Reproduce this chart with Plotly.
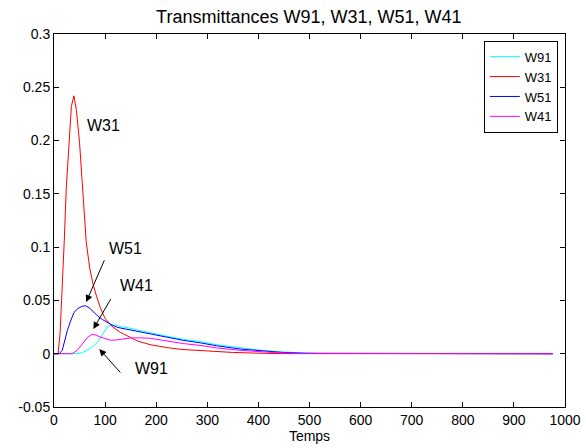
import plotly.graph_objects as go

# Time samples (Temps) and transmittance values for each curve
t_w91 = [0, 39, 55, 65, 75, 85, 92, 98, 104, 110, 121, 130, 143, 165, 188, 220, 253, 286, 318, 364, 400, 442, 480, 520, 976]
v_w91 = [0, 0, 0.0008, 0.0035, 0.0065, 0.0106, 0.016, 0.0216, 0.025, 0.0265, 0.0269, 0.0255, 0.0245, 0.022, 0.0195, 0.0165, 0.0135, 0.0115, 0.0085, 0.0055, 0.0035, 0.0018, 0.0008, 0.0002, 0]

t_w31 = [0, 8, 12, 16, 20, 24, 29, 34, 39, 44, 50, 56, 63, 70, 76, 82, 90, 100, 115, 130, 145, 163, 188, 220, 250, 305, 350, 400, 450, 976]
v_w31 = [0, 0, 0.02, 0.06, 0.105, 0.155, 0.2, 0.232, 0.242, 0.228, 0.198, 0.15, 0.105, 0.08, 0.066, 0.056, 0.044, 0.033, 0.025, 0.02, 0.016, 0.012, 0.0085, 0.0058, 0.004, 0.0022, 0.0012, 0.0005, 0.0001, 0]

t_w51 = [0, 10, 16, 21, 26, 32, 39, 47, 55, 62, 70, 78, 85, 95, 104, 114, 124, 140, 163, 188, 209, 253, 286, 318, 364, 400, 448, 490, 976]
v_w51 = [0, 0, 0.003, 0.013, 0.0216, 0.03, 0.0387, 0.0425, 0.0445, 0.045, 0.0425, 0.039, 0.0356, 0.032, 0.0294, 0.0268, 0.0247, 0.0232, 0.0212, 0.0185, 0.0165, 0.0125, 0.0102, 0.0075, 0.0044, 0.0028, 0.0012, 0.0004, 0]

t_w41 = [0, 35, 45, 57, 66, 74, 82, 90, 100, 110, 120, 135, 150, 168, 188, 210, 233, 253, 286, 318, 364, 400, 429, 470, 976]
v_w41 = [0, 0, 0.003, 0.0096, 0.0155, 0.018, 0.0175, 0.0158, 0.014, 0.0127, 0.0128, 0.0138, 0.0148, 0.0149, 0.0145, 0.0128, 0.011, 0.0095, 0.0078, 0.0055, 0.0032, 0.0018, 0.0011, 0.0003, 0]

series_names = ["W91", "W31", "W51", "W41"]
series_t = [t_w91, t_w31, t_w51, t_w41]
series_v = [v_w91, v_w31, v_w51, v_w41]
series_colors = ["#00FFFF", "#FF0000", "#0000FF", "#FF00FF"]

x_ticks = [0, 100, 200, 300, 400, 500, 600, 700, 800, 900, 1000]
y_ticks = [-0.05, 0, 0.05, 0.1, 0.15, 0.2, 0.25, 0.3]
y_tick_labels = ["-0.05", "0", "0.05", "0.1", "0.15", "0.2", "0.25", "0.3"]

# Curve labels: (text, x, y) and pointer arrows: (tip x, tip y, tail x, tail y)
curve_labels = [("W31", 60.7, 0.214), ("W51", 103, 0.0985), ("W41", 125, 0.0638), ("W91", 154.6, -0.0141)]
pointers = [(63, 0.0485, 99.8, 0.0891), (77, 0.0232, 112.9, 0.0528), (88.6, 0.0044, 132.5, -0.019)]

FONT = "Liberation Sans, Arial, sans-serif"

fig = go.Figure()
for name, tx, vy, col in zip(series_names, series_t, series_v, series_colors):
    fig.add_trace(go.Scatter(x=tx, y=vy, mode="lines", name=name,
                             line=dict(color=col, width=1)))

for text, xl, yl in curve_labels:
    fig.add_annotation(x=xl, y=yl, text=text, showarrow=False, xanchor="left", yanchor="middle",
                       font=dict(family=FONT, size=16, color="#000000"))

for tipx, tipy, tailx, taily in pointers:
    fig.add_annotation(x=tipx, y=tipy, ax=tailx, ay=taily, axref="x", ayref="y",
                       text="", showarrow=True, arrowhead=2, arrowsize=1.4, arrowwidth=1,
                       arrowcolor="#000000")

axis_common = dict(showline=True, linecolor="#000000", linewidth=1, mirror="ticks",
                   ticks="inside", ticklen=5, tickcolor="#000000", showgrid=False,
                   zeroline=False, automargin=False,
                   tickfont=dict(family=FONT, size=14, color="#000000"))

fig.update_xaxes(range=[0, 1000], tickvals=x_ticks, ticktext=[str(v) for v in x_ticks],
                 title=dict(text="Temps", font=dict(family=FONT, size=14, color="#000000"), standoff=2),
                 **axis_common)
fig.update_yaxes(range=[-0.05, 0.3], tickvals=y_ticks, ticktext=y_tick_labels, **axis_common)

fig.update_layout(
    width=586, height=448,
    margin=dict(l=54, r=21, t=34, b=41),
    paper_bgcolor="#FFFFFF", plot_bgcolor="#FFFFFF",
    title=dict(text="Transmittances W91, W31, W51, W41", x=0.527, xanchor="center",
               y=0.963, yanchor="middle", font=dict(family=FONT, size=18, color="#000000")),
    legend=dict(x=0.986, y=0.982, xanchor="right", yanchor="top", bgcolor="#FFFFFF",
                bordercolor="#000000", borderwidth=1, font=dict(family=FONT, size=13, color="#000000"),
                tracegroupgap=0),
    showlegend=True,
)

fig.write_html("out.html")
